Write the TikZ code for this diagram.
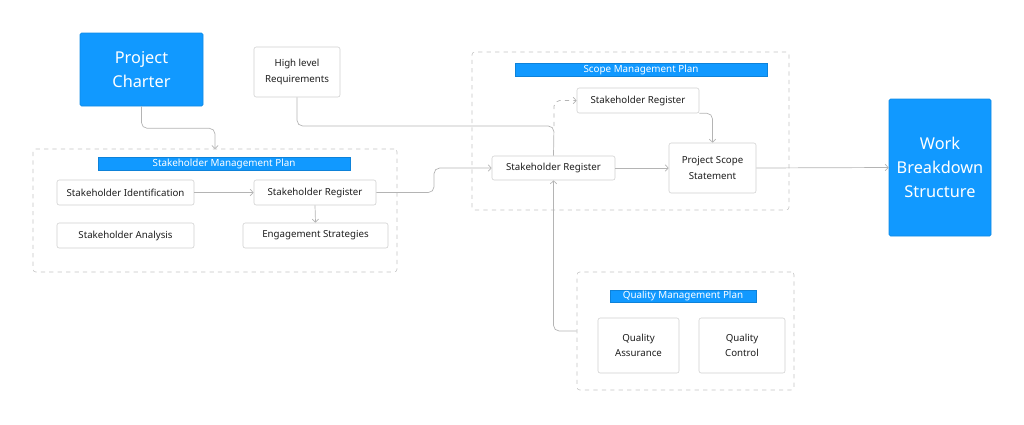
\documentclass[tikz,border=0pt]{standalone}
\usepackage{fontspec}
\setmainfont{Noto Sans}
\usepackage{tikz}
\usetikzlibrary{positioning,arrows.meta,calc}
\definecolor{planblue}{RGB}{17,153,255}
\definecolor{boxline}{RGB}{208,208,208}
\definecolor{frameline}{RGB}{195,195,195}
\definecolor{connline}{RGB}{180,180,180}
\definecolor{boxtext}{RGB}{30,30,30}

\begin{document}
\begin{tikzpicture}[x=0.025cm, y=-0.025cm,
    bigbox/.style={draw=planblue!90!black, fill=planblue, rounded corners=1pt, text=white,
        align=center, inner sep=0pt, font=\fontsize{11.6}{17}\selectfont},
    itembox/.style={draw=boxline, fill=white, rounded corners=1.5pt, text=boxtext,
        align=center, inner sep=0pt, font=\fontsize{6.9}{11}\selectfont},
    planframe/.style={draw=frameline, dashed, rounded corners=2pt, inner sep=0pt},
    planbar/.style={fill=planblue, draw=planblue!85!black, text=white, inner sep=0pt,
        font=\fontsize{7}{8}\selectfont},
    conn/.style={draw=connline, line width=0.5pt, rounded corners=4pt,
        -{Straight Barb[length=2.2pt,width=4.5pt]}}
]
    % Canvas
    \useasboundingbox (0,0) rectangle (1024,424);

    % Inputs
    \node[bigbox, minimum width=123*0.025cm, minimum height=73*0.025cm] (charter) at (141.5,69.5) {Project\\Charter};
    \node[itembox, minimum width=86*0.025cm, minimum height=50*0.025cm] (hlr) at (297,72) {High level\\Requirements};

    % Stakeholder Management Plan
    \node[planframe, minimum width=364*0.025cm, minimum height=123*0.025cm] (smp) at (215,210.5) {};
    \node[planbar, minimum width=252*0.025cm, minimum height=13*0.025cm] (smptitle) at (224,163.5) {Stakeholder Management Plan};
    \node[itembox, minimum width=137*0.025cm, minimum height=25*0.025cm] (sid) at (125.5,192.5) {Stakeholder Identification};
    \node[itembox, minimum width=122*0.025cm, minimum height=25*0.025cm] (sreg) at (315,192.5) {Stakeholder Register};
    \node[itembox, minimum width=137*0.025cm, minimum height=25*0.025cm] (sana) at (125.5,235.5) {Stakeholder Analysis};
    \node[itembox, minimum width=145*0.025cm, minimum height=25*0.025cm] (eng) at (315.5,235.5) {Engagement Strategies};

    % Scope Management Plan
    \node[planframe, minimum width=317*0.025cm, minimum height=158*0.025cm] (scope) at (630.5,131) {};
    \node[planbar, minimum width=252*0.025cm, minimum height=13*0.025cm] (scopetitle) at (641,69.5) {Scope Management Plan};
    \node[itembox, minimum width=122*0.025cm, minimum height=25*0.025cm] (sregtop) at (638,100.5) {Stakeholder Register};
    \node[itembox, minimum width=123*0.025cm, minimum height=24*0.025cm] (sregmid) at (553.5,168) {Stakeholder Register};
    \node[itembox, minimum width=87*0.025cm, minimum height=50*0.025cm] (pss) at (712.5,168) {Project Scope\\Statement};

    % Output
    \node[bigbox, minimum width=102*0.025cm, minimum height=137*0.025cm] (wbs) at (940,167.5) {Work\\Breakdown\\Structure};

    % Quality Management Plan
    \node[planframe, minimum width=217*0.025cm, minimum height=118*0.025cm] (qmp) at (685.5,331) {};
    \node[planbar, minimum width=146*0.025cm, minimum height=12*0.025cm] (qmptitle) at (683,296) {Quality Management Plan};
    \node[itembox, minimum width=81*0.025cm, minimum height=55*0.025cm] (qa) at (638.5,345.5) {Quality\\Assurance};
    \node[itembox, minimum width=86*0.025cm, minimum height=55*0.025cm] (qc) at (742,345.5) {Quality\\Control};

    % Joints
    \coordinate (smpin) at (215,149);
    \coordinate (join) at (554,126);

    % Connectors
    \draw[conn] (charter.south) -- ++(0,22) -| (smpin);
    \draw[conn, -] (hlr.south) |- (join) -- (sregmid.north);
    \draw[conn, dashed] (join) |- (sregtop.west);
    \draw[conn] (sid.east) -- (sreg.west);
    \draw[conn] (sreg.south) -- (eng.north);
    \draw[conn] (sreg.east) -| ($(sreg.east)!.5!(sregmid.west)$) |- (sregmid.west);
    \draw[conn] (sregtop.south east) -| (pss.north);
    \draw[conn] (sregmid.east) -- (pss.west);
    \draw[conn] (pss.east) -- (wbs.west);
    \draw[conn] (qmp.west) -| (sregmid.south);
\end{tikzpicture}
\end{document}
